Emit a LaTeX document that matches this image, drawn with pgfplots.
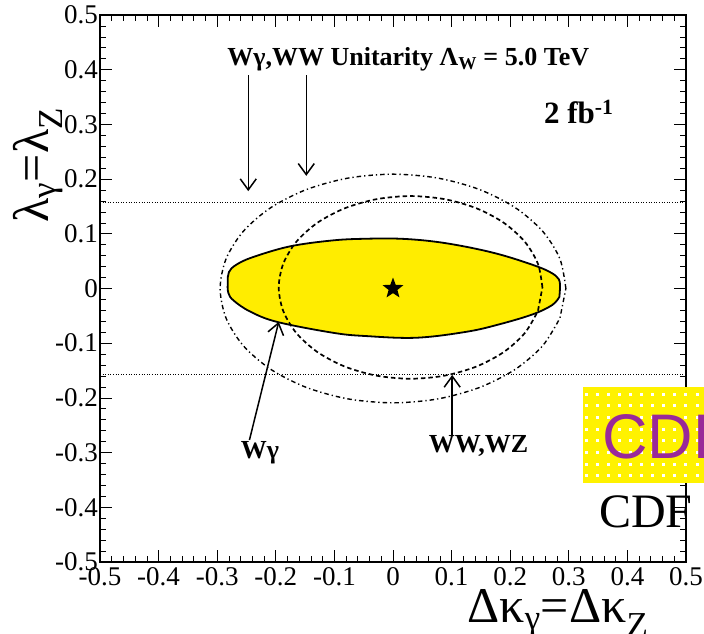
\documentclass[border=0pt]{standalone}
\usepackage{pgfplots}
\pgfplotsset{compat=1.18}
\usepackage{fontspec}
\setmainfont{Liberation Serif}
\newfontfamily\sansf{Liberation Sans}
\usetikzlibrary{arrows.meta}
\definecolor{ellyellow}{RGB}{255,237,0}
\definecolor{cdfpurple}{RGB}{153,41,153}

\pgfdeclareplotmark{fstar}{%
  \pgfpathmoveto{\pgfpointpolar{90}{\pgfplotmarksize}}%
  \pgfpathlineto{\pgfpointpolar{126}{0.42\pgfplotmarksize}}%
  \pgfpathlineto{\pgfpointpolar{162}{\pgfplotmarksize}}%
  \pgfpathlineto{\pgfpointpolar{198}{0.42\pgfplotmarksize}}%
  \pgfpathlineto{\pgfpointpolar{234}{\pgfplotmarksize}}%
  \pgfpathlineto{\pgfpointpolar{270}{0.42\pgfplotmarksize}}%
  \pgfpathlineto{\pgfpointpolar{306}{\pgfplotmarksize}}%
  \pgfpathlineto{\pgfpointpolar{342}{0.42\pgfplotmarksize}}%
  \pgfpathlineto{\pgfpointpolar{18}{\pgfplotmarksize}}%
  \pgfpathlineto{\pgfpointpolar{54}{0.42\pgfplotmarksize}}%
  \pgfpathclose
  \pgfusepathqfill
}

\begin{document}
\begin{tikzpicture}
\begin{axis}[
  at={(0pt,0pt)}, anchor=south west,
  scale only axis, width=586pt, height=547pt,
  xmin=-0.5, xmax=0.5, ymin=-0.5, ymax=0.5,
  xtick={-0.5,-0.4,-0.3,-0.2,-0.1,0,0.1,0.2,0.3,0.4,0.5},
  ytick={-0.5,-0.4,-0.3,-0.2,-0.1,0,0.1,0.2,0.3,0.4,0.5},
  minor tick num=4,
  tick align=inside,
  major tick length=12pt, minor tick length=6pt,
  every tick/.style={black, line width=0.7pt},
  axis line style={line width=1.2pt},
  tick label style={font=\fontsize{27}{27}\selectfont},
  /pgf/number format/assume math mode=true,
  /pgf/number format/fixed, /pgf/number format/precision=1,
  yticklabel style={inner xsep=2pt},
  xticklabel style={inner ysep=5pt},
  xlabel={Δκ\textsubscript{γ}=Δκ\textsubscript{Z}},
  xlabel style={at={(axis description cs:0.7816,-0.110)}, anchor=base, inner sep=0pt, font=\fontsize{50}{50}\selectfont},
  ylabel={λ\textsubscript{γ}=λ\textsubscript{Z}},
  ylabel style={at={(axis description cs:-0.0887,0.7258)}, anchor=base, inner sep=0pt, font=\fontsize{50}{50}\selectfont},
  clip=false,
]
% yellow 95% CL contour
\addplot[fill=ellyellow, draw=black, line width=1.8pt, smooth, tension=0.6] coordinates {
(0.285,0.000) (0.283,0.017) (0.268,0.030) (0.239,0.043) (0.183,0.062) (0.126,0.076)
(0.069,0.086) (0.012,0.091) (-0.045,0.091) (-0.102,0.088) (-0.176,0.077) (-0.240,0.057)
(-0.268,0.043) (-0.280,0.030) (-0.282,0.012) (-0.281,-0.008) (-0.272,-0.022) (-0.244,-0.042)
(-0.198,-0.061) (-0.102,-0.081) (-0.045,-0.087) (0.040,-0.090) (0.126,-0.079) (0.183,-0.065)
(0.239,-0.047) (0.272,-0.030) (0.284,-0.015)
} -- cycle;
% WW,WZ dashed contour
\addplot[black, line width=1.7pt, dash pattern=on 4.5pt off 3pt, smooth] coordinates {
(0.255,0.002) (0.2473,0.0452) (0.2249,0.0855) (0.1891,0.1201) (0.1425,0.1466) (0.0882,0.1633)
(0.030,0.169) (-0.0282,0.1633) (-0.0825,0.1466) (-0.1291,0.1201) (-0.1649,0.0855) (-0.1873,0.0452)
(-0.195,0.002) (-0.1873,-0.0412) (-0.1649,-0.0815) (-0.1291,-0.1161) (-0.0825,-0.1426) (-0.0282,-0.1593)
(0.030,-0.165) (0.0882,-0.1593) (0.1425,-0.1426) (0.1891,-0.1161) (0.2249,-0.0815) (0.2473,-0.0412)
} -- cycle;
% dash-dot contour
\addplot[black, line width=1.4pt, dash pattern=on 4.5pt off 3pt on 1.3pt off 3pt, smooth] coordinates {
(0.295,0) (0.2849,0.0541) (0.2555,0.1045) (0.2086,0.1478) (0.1475,0.1810) (0.0763,0.2019)
(0,0.209) (-0.0763,0.2019) (-0.1475,0.1810) (-0.2086,0.1478) (-0.2555,0.1045) (-0.2849,0.0541)
(-0.295,0) (-0.2849,-0.0541) (-0.2555,-0.1045) (-0.2086,-0.1478) (-0.1475,-0.1810) (-0.0763,-0.2019)
(0,-0.209) (0.0763,-0.2019) (0.1475,-0.1810) (0.2086,-0.1478) (0.2555,-0.1045) (0.2849,-0.0541)
} -- cycle;
% unitarity lines
\addplot[black, line width=0.9pt, dash pattern=on 1pt off 1.6pt] coordinates {(-0.5,0.157) (0.5,0.157)};
\addplot[black, line width=0.9pt, dash pattern=on 1pt off 1.6pt] coordinates {(-0.5,-0.157) (0.5,-0.157)};
% SM point
\addplot[only marks, mark=fstar, mark size=11pt, black] coordinates {(0,0)};

% annotations
\node[anchor=base, inner sep=0pt, font=\bfseries\fontsize{26}{26}\selectfont] at (axis cs:0.026,0.408) {Wγ,WW Unitarity Λ\textsubscript{W} = 5.0 TeV};
\node[anchor=base, inner sep=0pt, font=\bfseries\fontsize{31}{31}\selectfont] at (axis cs:0.317,0.302) {2 fb\textsuperscript{-1}};
\node[anchor=base, inner sep=0pt, font=\bfseries\fontsize{26}{26}\selectfont] at (axis cs:-0.227,-0.311) {Wγ};
\node[anchor=base, inner sep=0pt, font=\bfseries\fontsize{26}{26}\selectfont] at (axis cs:0.146,-0.299) {WW,WZ};
\draw[line width=1.5pt, -{Straight Barb[length=11pt,width=16pt]}] (axis cs:-0.247,0.39) -- (axis cs:-0.247,0.178);
\draw[line width=1.5pt, -{Straight Barb[length=11pt,width=16pt]}] (axis cs:-0.148,0.39) -- (axis cs:-0.148,0.206);
\draw[line width=1.5pt, -{Straight Barb[length=11pt,width=16pt]}] (axis cs:-0.245,-0.277) -- (axis cs:-0.195,-0.061);
\draw[line width=1.5pt, -{Straight Barb[length=11pt,width=16pt]}] (axis cs:0.101,-0.268) -- (axis cs:0.101,-0.158);
\end{axis}
% CDF logo box
\fill[yellow] (483pt,79pt) rectangle (620pt,175pt);
\foreach \i in {0,...,10} {
  \foreach \j in {0,...,7} {
    \fill[white] ({(486+11.1*\i-1.5)*1pt},{(168-11.7*\j-1.5)*1pt}) rectangle +(3pt,3pt);
  }
}
\node[anchor=base west, inner sep=0pt, text=cdfpurple, font=\sansf\fontsize{63}{63}\selectfont] at (502pt,104pt) {CDF};
\node[anchor=base west, inner sep=0pt, font=\fontsize{48}{48}\selectfont] at (499pt,35pt) {CDF};
\pgfresetboundingbox
\path[use as bounding box] (-100pt,-71pt) rectangle (604pt,562pt);
\end{tikzpicture}
\end{document}
